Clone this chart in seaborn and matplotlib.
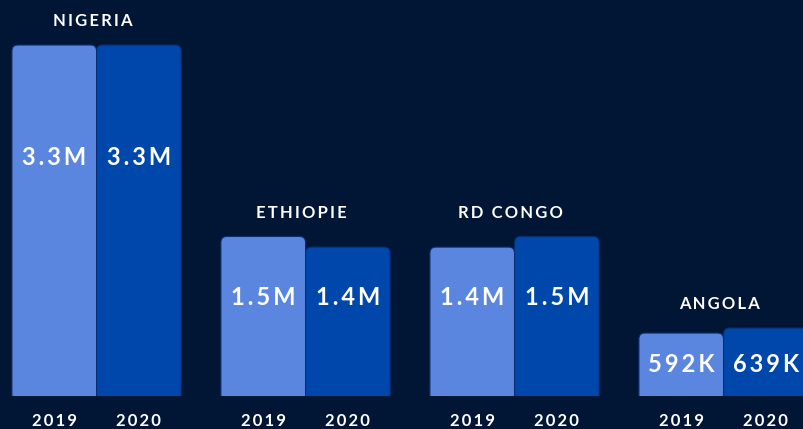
import numpy as np
import pandas as pd
import seaborn as sns
import matplotlib.pyplot as plt
from matplotlib.patches import FancyBboxPatch

BG = "#011535"
C19 = "#5b86e0"
C20 = "#0047ab"
FONT = ["Lato", "DejaVu Sans"]

# données
countries = ["NIGERIA", "ETHIOPIE", "RD CONGO", "ANGOLA"]
years = ["2019", "2020"]
vals_2019 = [3.3e6, 1.5e6, 1.4e6, 592e3]
vals_2020 = [3.3e6, 1.4e6, 1.5e6, 639e3]

df = pd.DataFrame({
    "pays": countries * 2,
    "annee": [years[0]] * 4 + [years[1]] * 4,
    "valeur": vals_2019 + vals_2020,
})


def spaced(s):
    # espacement des lettres
    return "\u2009".join(s)


def fmt(v):
    if v >= 1e6:
        return f"{v / 1e6:.1f}M"
    return f"{v / 1e3:.0f}K"


sns.set_theme(style="white")
fig = plt.figure(figsize=(8.04, 4.29), dpi=100, facecolor=BG)
ax = fig.add_axes([0, 33 / 429, 1, 396 / 429])
ax.set_facecolor(BG)

sns.barplot(data=df, x="pays", y="valeur", hue="annee", palette=[C19, C20],
            width=0.81, saturation=1, legend=False, ax=ax)

xmin, xmax = -0.462, 3.385
ymax = 3.3e6 * 396 / 351
ax.set_xlim(xmin, xmax)
ax.set_ylim(0, ymax)
ax.axis("off")

# barres aux coins arrondis
xpp = (xmax - xmin) / 804
ypp = ymax / 396
rad = 6 * xpp
aspect = ypp / xpp
centers = {}
for cont, year in zip(ax.containers, years):
    for bar, pays in zip(cont, countries):
        x, w, h = bar.get_x(), bar.get_width(), bar.get_height()
        fc = bar.get_facecolor()
        bar.set_visible(False)
        p = FancyBboxPatch((x, -rad * aspect), w, h + rad * aspect,
                           boxstyle=f"round,pad=0,rounding_size={rad}",
                           mutation_aspect=aspect, facecolor=fc,
                           edgecolor="#0b2c6e", linewidth=0.8)
        ax.add_patch(p)
        centers[(pays, year)] = (x + w / 2, h)

for pays in countries:
    top = max(centers[(pays, y)][1] for y in years)
    xs = [centers[(pays, y)][0] for y in years]
    ylab = 0.73 * top - 18 * ypp
    for y, xc in zip(years, xs):
        v = centers[(pays, y)][1]
        ax.text(xc, ylab, spaced(fmt(v)), color="white", fontsize=17,
                family=FONT, fontweight="bold", ha="center", va="center")
        ax.annotate(spaced(y), (xc, 0), xytext=(0, -18), textcoords="offset points",
                    color="white", fontsize=12, family=FONT, fontweight="bold",
                    ha="center", va="center", annotation_clip=False)
    ax.annotate(spaced(pays), (np.mean(xs) - 4 * xpp, top), xytext=(0, 17),
                textcoords="offset points", color="white", fontsize=12,
                family=FONT, fontweight="bold", ha="center", va="center",
                annotation_clip=False)

fig.savefig("out.png", dpi=100, facecolor=BG)
